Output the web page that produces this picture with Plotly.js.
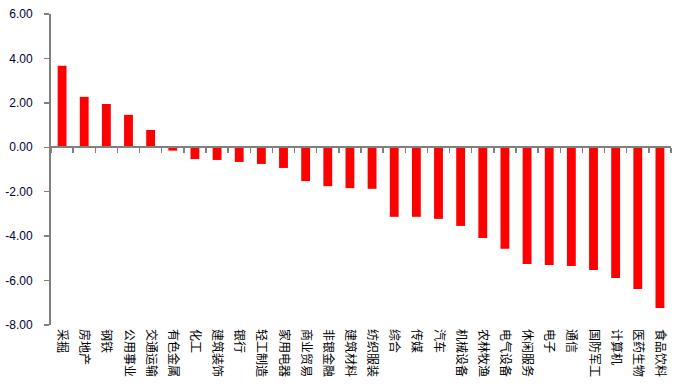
<!DOCTYPE html>
<html>
<head>
<meta charset="utf-8">
<script src="https://cdn.plot.ly/plotly-3.0.1.min.js"></script>
<style>html,body{margin:0;padding:0;background:#fff;}#chart{width:681px;height:391px;}</style>
</head>
<body>
<div id="chart"></div>
<script>
const categories = ['采掘','房地产','钢铁','公用事业','交通运输','有色金属','化工','建筑装饰','银行','轻工制造','家用电器','商业贸易','非银金融','建筑材料','纺织服装','综合','传媒','汽车','机械设备','农林牧渔','电气设备','休闲服务','电子','通信','国防军工','计算机','医药生物','食品饮料'];
const values = [3.67,2.27,1.95,1.46,0.78,-0.15,-0.53,-0.57,-0.66,-0.75,-0.93,-1.52,-1.75,-1.84,-1.87,-3.13,-3.13,-3.22,-3.54,-4.08,-4.57,-5.25,-5.30,-5.34,-5.52,-5.88,-6.38,-7.23];
const yTicks = [6,4,2,0,-2,-4,-6,-8];

const yMin = -8, yMax = 6;
const traces = [
  {type:'bar', x:categories, y:values, marker:{color:'#FF0000'}, xaxis:'x', yaxis:'y', hoverinfo:'x+y'},
  {type:'bar', x:categories, y:values.map(()=>0), marker:{color:'rgba(0,0,0,0)'}, xaxis:'x2', yaxis:'y', hoverinfo:'skip', showlegend:false}
];
const layout = {
  width:681, height:391,
  margin:{l:51, r:10, t:14, b:66},
  paper_bgcolor:'#fff', plot_bgcolor:'#fff',
  showlegend:false,
  bargap:0.6,
  font:{family:'Arial, "Liberation Sans", "Noto Sans CJK SC", sans-serif', size:12, color:'#000'},
  xaxis:{
    type:'category', categoryarray:categories, range:[-0.5, categories.length-0.5],
    showline:false, showgrid:false, zeroline:false, ticks:'',
    tickangle:90, tickfont:{family:'"Noto Sans CJK SC", sans-serif', size:12, color:'#000'},
    ticklabelstandoff:3
  },
  xaxis2:{
    type:'category', categoryarray:categories, range:[-0.5, categories.length-0.5],
    overlaying:'x', anchor:'free', position:(0-yMin)/(yMax-yMin),
    showline:true, linecolor:'#808080', linewidth:2, showgrid:false, zeroline:false,
    ticks:'outside', tickson:'boundaries', ticklen:5, tickcolor:'#808080', tickwidth:1.5,
    showticklabels:false
  },
  yaxis:{
    range:[yMin, yMax], tickvals:yTicks, ticktext:yTicks.map(v=>v.toFixed(2)),
    showline:true, linecolor:'#808080', linewidth:2, showgrid:false, zeroline:false,
    ticks:'outside', ticklen:5, tickcolor:'#808080', tickwidth:1.5,
    ticklabelstandoff:9,
    tickfont:{family:'Arial, "Liberation Sans", sans-serif', size:12, color:'#000033'}
  }
};
Plotly.newPlot('chart', traces, layout, {displayModeBar:false, staticPlot:true});
</script>
</body>
</html>
